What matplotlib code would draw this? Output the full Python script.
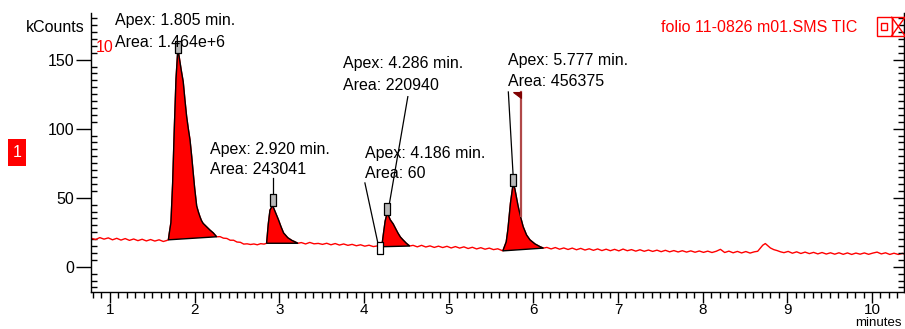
import matplotlib
matplotlib.use("Agg")
import matplotlib.pyplot as plt
import numpy as np
from matplotlib.patches import Rectangle, Polygon
from matplotlib.ticker import MultipleLocator

plt.rcParams['font.family'] = ['Liberation Sans', 'DejaVu Sans']

# ---------------- data ----------------
times = [0.78, 0.83, 0.88, 0.93, 0.98, 1.03, 1.08, 1.13, 1.18, 1.23, 1.28, 1.33, 1.38, 1.43, 1.48, 1.53, 1.58, 1.63, 1.67,
         1.69, 1.70, 1.72, 1.74, 1.76, 1.78, 1.80, 1.81, 1.84, 1.865, 1.885, 1.905, 1.925, 1.945, 1.965, 1.983, 2.00, 2.024,
         2.045, 2.063, 2.08, 2.10, 2.14, 2.18, 2.22, 2.26,
         2.30, 2.34, 2.38, 2.42, 2.46, 2.50, 2.54, 2.58, 2.62, 2.66, 2.70, 2.74, 2.78, 2.82,
         2.85, 2.87, 2.89, 2.92, 2.95, 2.99, 3.02, 3.05, 3.10, 3.15, 3.18, 3.22,
         3.26, 3.31, 3.36, 3.41, 3.46, 3.51, 3.56, 3.61, 3.66, 3.71, 3.76, 3.81, 3.86, 3.91, 3.96, 4.01, 4.06, 4.11, 4.16, 4.19,
         4.21, 4.23, 4.25, 4.27, 4.29, 4.31, 4.345, 4.37, 4.40, 4.43, 4.46, 4.50, 4.54,
         4.58, 4.63, 4.68, 4.73, 4.78, 4.83, 4.88, 4.93, 4.98, 5.03, 5.08, 5.13, 5.18, 5.23, 5.28, 5.33, 5.38, 5.43, 5.48,
         5.53, 5.58, 5.62,
         5.64, 5.68, 5.70, 5.73, 5.76, 5.78, 5.82, 5.85, 5.88, 5.92, 5.96, 6.02, 6.08, 6.12,
         6.16, 6.21, 6.26, 6.31, 6.36, 6.41, 6.46, 6.51, 6.56, 6.61, 6.66, 6.71, 6.76, 6.81, 6.86, 6.91, 6.96, 7.01, 7.06,
         7.11, 7.16, 7.21, 7.26, 7.31, 7.36, 7.41, 7.46, 7.51, 7.56, 7.61, 7.66, 7.71, 7.76, 7.81, 7.86, 7.91, 7.96, 8.01,
         8.06, 8.11, 8.16, 8.21, 8.26, 8.31, 8.36, 8.41, 8.46, 8.51, 8.56, 8.61, 8.65, 8.68, 8.71, 8.74, 8.77, 8.80, 8.84,
         8.88, 8.92, 8.96, 9.01, 9.06, 9.11, 9.16, 9.21, 9.26, 9.31, 9.36, 9.41, 9.46, 9.51, 9.56, 9.61, 9.66, 9.71, 9.76,
         9.81, 9.86, 9.91, 9.96, 10.01, 10.06, 10.11, 10.16, 10.21, 10.26, 10.31, 10.36, 10.38]

kcounts = [20.6, 19.7, 21.1, 20.0, 20.9, 19.5, 20.6, 19.3, 20.4, 19.1, 20.1, 18.9, 19.9, 18.7, 19.7, 18.6, 19.5, 18.3, 19.0,
           19.5, 24.0, 32.0, 60.0, 100.0, 136.0, 156.0, 155.0, 143.0, 134.0, 121.0, 109.0, 100.0, 92.0, 80.0, 68.0, 57.0, 44.0,
           39.5, 36.2, 33.5, 31.4, 29.0, 26.6, 24.5, 21.7,
           21.8, 20.7, 20.5, 19.2, 19.2, 17.9, 17.7, 16.4, 16.6, 16.1, 16.5, 15.9, 16.7, 16.4,
           17.0, 31.0, 41.0, 44.5, 40.0, 34.0, 29.0, 24.5, 21.0, 19.0, 18.2, 17.0,
           17.5, 16.5, 17.6, 16.6, 16.9, 16.2, 17.0, 15.9, 16.8, 15.7, 16.5, 15.5, 16.2, 15.2, 15.9, 14.9, 15.6, 14.6, 15.1, 14.2,
           14.5, 24.0, 33.0, 38.0, 37.0, 34.0, 31.0, 28.0, 24.5, 21.5, 19.5, 17.0, 15.0,
           15.5, 14.4, 15.5, 14.3, 15.1, 14.0, 14.9, 13.9, 14.8, 13.6, 14.6, 13.5, 14.4, 13.2, 14.1, 12.9, 13.8, 12.7, 13.5,
           12.4, 13.0, 12.0,
           11.5, 18.0, 27.0, 46.0, 59.5, 57.0, 44.0, 36.0, 29.0, 23.0, 19.5, 16.5, 14.5, 13.5,
           14.0, 12.9, 13.9, 12.7, 13.6, 12.5, 13.5, 12.3, 13.3, 12.1, 13.0, 11.9, 12.9, 11.7, 12.7, 11.6, 12.6, 11.5, 12.8,
           11.6, 12.4, 11.3, 12.3, 11.2, 12.1, 11.1, 12.0, 10.9, 11.9, 10.8, 11.7, 10.7, 11.6, 10.6, 11.5, 10.5, 11.4, 10.4,
           11.3, 10.3, 11.2, 12.6, 10.3, 11.3, 10.1, 11.1, 10.0, 11.0, 9.9, 10.8, 11.2, 13.4, 15.6, 16.8, 15.2, 13.6, 12.4,
           11.7, 10.8, 10.2, 11.1, 9.8, 10.8, 9.6, 10.6, 9.5, 10.4, 9.3, 10.3, 9.2, 10.1, 9.1, 10.1, 9.0, 10.0, 8.9,
           9.9, 9.1, 10.0, 9.0, 9.9, 10.6, 9.3, 10.1, 8.9, 9.8, 8.9, 9.7, 9.2]

peak_start = [1.69, 2.85, 4.21, 5.64]
peak_end = [2.26, 3.22, 4.54, 6.12]
apex_time = ["1.805", "2.920", "4.286", "5.777"]
apex_area = ["1.464e+6", "243041", "220940", "456375"]

minor_peak_time = "4.186"
minor_peak_area = "60"
minor_peak_x = 4.186

trace_title = "folio 11-0826 m01.SMS TIC"

# ---------------- layout ----------------
W, H = 905, 329
fig = plt.figure(figsize=(W / 100, H / 100), dpi=100)
ax = fig.add_axes([91 / W, 1 - 292 / H, (904 - 91) / W, (292 - 13) / H])
ax.set_xlim(0.776, 10.378)
ax.set_ylim(-18.3, 183.8)

FS = 11.5
t = np.array(times)
y = np.array(kcounts)

ax.plot(t, y, color='#ff0000', lw=1.0, zorder=2)

apex_pts = []
for s, e in zip(peak_start, peak_end):
    m = (t >= s - 1e-9) & (t <= e + 1e-9)
    px, py = t[m], y[m]
    verts = list(zip(px, py)) + [(px[-1], py[-1]), (px[0], py[0])]
    ax.add_patch(Polygon(verts, closed=True, facecolor='#ff0000', edgecolor='black', lw=1.0, zorder=3))
    i = np.argmax(py)
    apex_pts.append((px[i], py[i]))

box_marker = [(-0.5, -1), (0.5, -1), (0.5, 1), (-0.5, 1), (-0.5, -1)]
for (ax_, ay_) in apex_pts:
    ax.plot([ax_], [ay_ + 3.5], marker=box_marker, ms=9, mfc='#b8b8b8', mec='black', mew=0.9, zorder=5)
# minor peak marker
mi = np.argmin(np.abs(t - minor_peak_x))
ax.plot([minor_peak_x], [y[mi] - 0.5], marker=box_marker, ms=8, mfc='white', mec='black', mew=0.9, zorder=5)

# label positions (data coords) for two-line labels
label_pos = [(1.059, 178.2, 162.5), (2.18, 85.0, 70.5), (3.75, 147.0, 131.5), (5.70, 149.5, 134.5)]
for (lx, ly1, ly2), at, aa in zip(label_pos, apex_time, apex_area):
    ax.text(lx, ly1, f"Apex: {at} min.", fontsize=FS, va='center', ha='left', zorder=6)
    ax.text(lx, ly2, f"Area: {aa}", fontsize=FS, va='center', ha='left', zorder=6)
ax.text(4.01, 82.0, f"Apex: {minor_peak_time} min.", fontsize=FS, va='center', ha='left', zorder=6)
ax.text(4.01, 67.5, f"Area: {minor_peak_area}", fontsize=FS, va='center', ha='left', zorder=6)

# leader lines
leaders = [((2.928, 64.3), (2.928, 51.5)),
           ((4.518, 123.2), (4.294, 43.5)),
           ((4.011, 60.7), (4.164, 17.2)),
           ((5.705, 126.6), (5.762, 65.7))]
for (x0, y0), (x1, y1) in leaders:
    ax.plot([x0, x1], [y0, y1], color='black', lw=0.9, zorder=4)

# red vertical marker and flag
ax.plot([5.855, 5.855], [126.6, 37.0], color='#b04848', lw=1.6, zorder=4)
ax.add_patch(Polygon([(5.762, 126.6), (5.855, 126.6), (5.855, 122.5)], closed=True,
                     facecolor='#800000', edgecolor='#800000', lw=0.8, zorder=5))

# axes styling
ax.spines['top'].set_visible(False)
for sp in ['left', 'right', 'bottom']:
    ax.spines[sp].set_linewidth(1.0)
ax.xaxis.set_major_locator(MultipleLocator(1))
ax.xaxis.set_minor_locator(MultipleLocator(0.1))
ax.yaxis.set_major_locator(MultipleLocator(50))
ax.yaxis.set_minor_locator(MultipleLocator(5))
ax.tick_params(axis='x', which='major', direction='out', length=8, width=1, pad=0, labelsize=11)
ax.tick_params(axis='x', which='minor', direction='out', length=4.5, width=1)
ax.tick_params(axis='y', which='major', direction='out', length=11, width=1, pad=1, labelsize=FS)
ax.tick_params(axis='y', which='minor', direction='in', length=4.5, width=1)
ax.tick_params(axis='y', right=False)

ax2 = ax.twinx()
ax2.set_ylim(ax.get_ylim())
ax2.yaxis.set_major_locator(MultipleLocator(50))
ax2.yaxis.set_minor_locator(MultipleLocator(5))
ax2.tick_params(axis='y', which='major', direction='in', length=8, width=1, labelright=False)
ax2.tick_params(axis='y', which='minor', direction='in', length=4, width=1)
ax2.spines['top'].set_visible(False)
ax2.spines['left'].set_visible(False)
ax2.spines['bottom'].set_visible(False)

# figure texts
fig.text(902 / W, 0.2 / H, "minutes", fontsize=9.5, ha='right', va='bottom')
fig.text(85 / W, 1 - 28 / H, "kCounts", fontsize=FS, ha='right', va='center')
fig.text(96 / W, 1 - 47.5 / H, "10", fontsize=FS, ha='left', va='center', color='#ff0000')
fig.text(857 / W, 1 - 28 / H, trace_title, fontsize=FS, ha='right', va='center', color='#ff0000')

# red "1" badge
fig.patches.append(Rectangle((8.3 / W, 1 - 165.7 / H), 17.7 / W, 26.4 / H, transform=fig.transFigure,
                             facecolor='#ff0000', edgecolor='none'))
fig.text(17.2 / W, 1 - 152.5 / H, "1", fontsize=FS, ha='center', va='center', color='white')

# window icons (top right)
fig.patches.append(Rectangle((876.7 / W, 1 - 35.7 / H), 15 / W, 18.4 / H, transform=fig.transFigure,
                             facecolor='none', edgecolor='#ff0000', lw=1.0))
fig.patches.append(Rectangle((880.7 / W, 1 - 30 / H), 6 / W, 7.3 / H, transform=fig.transFigure,
                             facecolor='none', edgecolor='#ff0000', lw=1.0))
fig.patches.append(Rectangle((891.7 / W, 1 - 35.7 / H), 14 / W, 18.4 / H, transform=fig.transFigure,
                             facecolor='none', edgecolor='#ff0000', lw=1.0))
fig.lines.append(plt.Line2D([891.7 / W, 905 / W], [1 - 17.3 / H, 1 - 35.7 / H], transform=fig.transFigure,
                            color='#ff0000', lw=1.0))
fig.lines.append(plt.Line2D([891.7 / W, 905 / W], [1 - 35.7 / H, 1 - 17.3 / H], transform=fig.transFigure,
                            color='#ff0000', lw=1.0))

fig.savefig("out.png", dpi=100)
